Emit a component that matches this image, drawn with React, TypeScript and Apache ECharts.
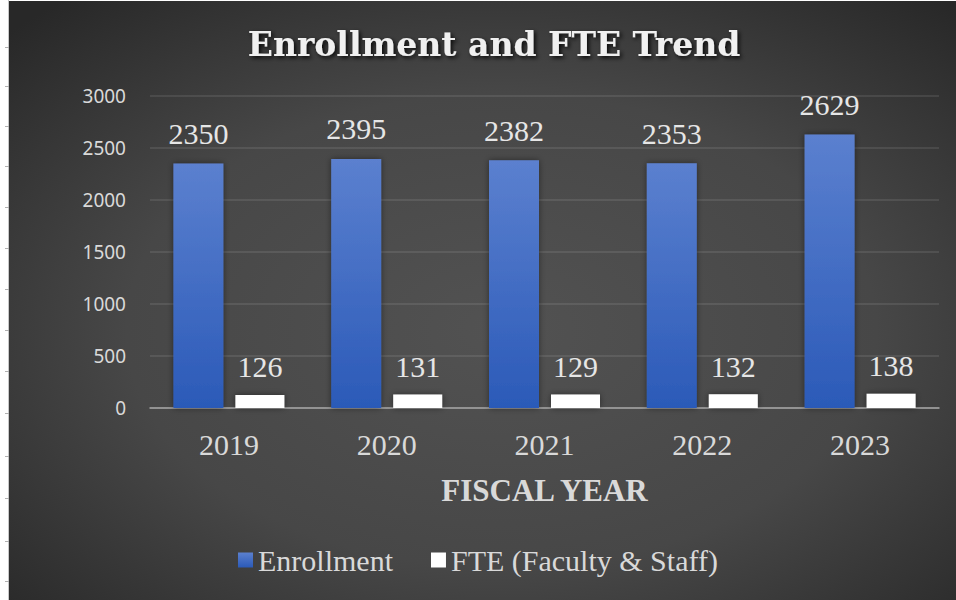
import React, { useEffect, useRef } from "react";
import * as echarts from "echarts";

const years = ["2019", "2020", "2021", "2022", "2023"];
const enrollment = [2350, 2395, 2382, 2353, 2629];
const fte = [126, 131, 129, 132, 138];
const yTicks = [0, 500, 1000, 1500, 2000, 2500, 3000];

const SERIF = "'Liberation Serif', 'Times New Roman', serif";

export default function App() {
  const ref = useRef<HTMLDivElement>(null);
  useEffect(() => {
    if (!ref.current) return;
    const chart = echarts.init(ref.current, undefined, { renderer: "svg" });
    const leftTicks = [47, 86, 126, 166, 207, 248, 289, 330, 371, 413, 456, 498, 541, 581];
    const graphics: any[] = [
      {
        type: "rect",
        z: -10,
        silent: true,
        shape: { x: 9, y: 1, width: 947, height: 599 },
        style: {
          fill: new echarts.graphic.RadialGradient(0.52, 0.55, 0.72, [
            { offset: 0, color: "#525252" },
            { offset: 0.55, color: "#474747" },
            { offset: 1, color: "#282828" },
          ]),
        },
      },
      {
        type: "line",
        z: -9,
        silent: true,
        shape: { x1: 8.5, y1: 0, x2: 8.5, y2: 600 },
        style: { stroke: "#c8c8c8", lineWidth: 1 },
      },
      ...leftTicks.map((y) => ({
        type: "line",
        z: -9,
        silent: true,
        shape: { x1: 5, y1: y + 0.5, x2: 9, y2: y + 0.5 },
        style: { stroke: "#b0b0b0", lineWidth: 1 },
      })),
    ];
    const labelStyle = {
      show: true,
      position: "top",
      distance: 15,
      fontFamily: SERIF,
      fontSize: 30,
      color: "#e6e6e6",
    };
    chart.setOption({
      animation: false,
      backgroundColor: "#ffffff",
      graphic: graphics,
      title: {
        text: "Enrollment and FTE Trend",
        left: 489,
        top: 23,
        textAlign: "center",
        textStyle: {
          fontFamily: "'DejaVu Serif', serif",
          fontWeight: "bold",
          fontSize: 33,
          color: "#f0f0f0",
          textShadowColor: "rgba(0,0,0,0.85)",
          textShadowBlur: 4,
          textShadowOffsetX: 2,
          textShadowOffsetY: 2,
        },
      },
      legend: {
        left: 233,
        top: 540,
        itemWidth: 15,
        itemHeight: 15,
        itemGap: 38,
        icon: "rect",
        textStyle: { fontFamily: SERIF, fontSize: 30, color: "#d9d9d9", padding: [0, 0, 0, 0] },
        data: ["Enrollment", "FTE (Faculty & Staff)"],
      },
      grid: { left: 150, right: 17, top: 96, bottom: 192, containLabel: false },
      xAxis: {
        type: "category",
        data: years,
        axisLine: { lineStyle: { color: "#a6a6a6", width: 1.5 } },
        axisTick: { show: false },
        axisLabel: { fontFamily: SERIF, fontSize: 30, color: "#d9d9d9", margin: 21 },
        name: "FISCAL YEAR",
        nameLocation: "middle",
        nameGap: 67,
        nameTextStyle: { fontFamily: SERIF, fontSize: 31, fontWeight: "bold", color: "#d9d9d9" },
      },
      yAxis: {
        type: "value",
        min: yTicks[0],
        max: yTicks[yTicks.length - 1],
        interval: 500,
        axisLine: { show: false },
        axisTick: { show: false },
        axisLabel: {
          fontFamily: "'Noto Sans', sans-serif",
          fontSize: 19,
          color: "#d9d9d9",
          margin: 24,
          formatter: (v: number) => String(v),
        },
        splitLine: { lineStyle: { color: "rgba(255,255,255,0.12)", width: 1.5 } },
      },
      series: [
        {
          name: "Enrollment",
          type: "bar",
          data: enrollment,
          barWidth: 50,
          barGap: "24%",
          itemStyle: {
            color: new echarts.graphic.LinearGradient(0, 0, 0, 1, [
              { offset: 0, color: "#5b80cf" },
              { offset: 1, color: "#2b5ab8" },
            ]),
            shadowColor: "rgba(0,0,0,0.45)",
            shadowBlur: 6,
          },
          label: labelStyle,
        },
        {
          name: "FTE (Faculty & Staff)",
          type: "bar",
          data: fte,
          barWidth: 49,
          itemStyle: {
            color: "#ffffff",
            shadowColor: "rgba(0,0,0,0.45)",
            shadowBlur: 6,
          },
          label: { ...labelStyle, distance: 13 },
        },
      ],
    });
    return () => chart.dispose();
  }, []);
  return (
    <div
      ref={ref}
      style={{ position: "absolute", left: 0, top: 0, width: 956, height: 600 }}
    />
  );
}
